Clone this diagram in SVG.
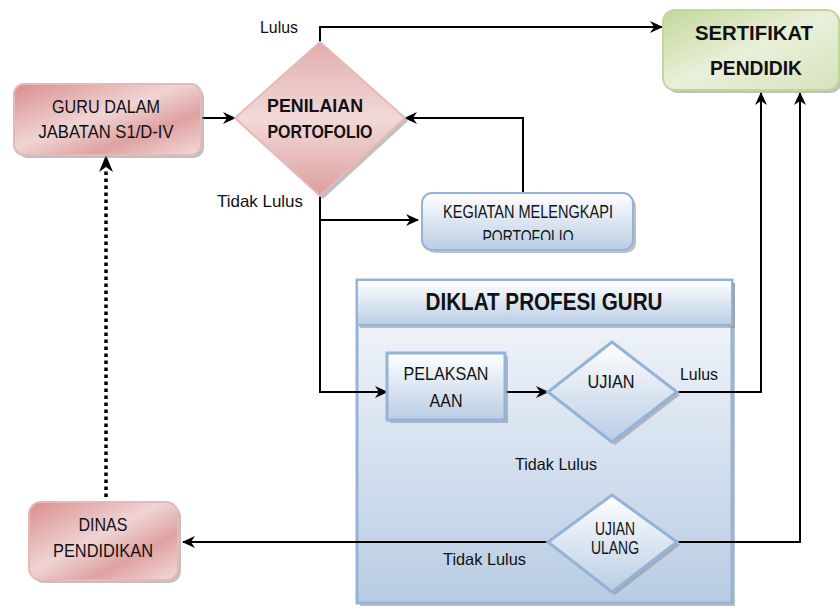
<svg xmlns="http://www.w3.org/2000/svg" width="840" height="611" viewBox="0 0 840 611">
<style>
text{font-family:"Liberation Sans",Arial,sans-serif;fill:#111;}
.n{font-size:18px;text-anchor:middle;}
.b{font-weight:bold;text-anchor:middle;}
.l{font-size:16.5px;}
.c{fill:none;stroke:#000;stroke-width:2;}
.sh{fill:#8c8c8c;opacity:0.55;}
</style>
<defs>
<linearGradient id="pink" x1="0" y1="0" x2="1" y2="1">
<stop offset="0" stop-color="#d98e8d"/><stop offset="0.45" stop-color="#f0d4d4"/><stop offset="0.7" stop-color="#dea2a1"/><stop offset="1" stop-color="#f3dada"/>
</linearGradient>
<linearGradient id="pinkd" x1="0" y1="0" x2="0" y2="1">
<stop offset="0" stop-color="#e3adac"/><stop offset="0.5" stop-color="#f2d9d9"/><stop offset="1" stop-color="#dc9e9d"/>
</linearGradient>
<linearGradient id="green" x1="0" y1="0" x2="1" y2="1">
<stop offset="0" stop-color="#c4d79b"/><stop offset="0.5" stop-color="#e9f0da"/><stop offset="1" stop-color="#d5e3bb"/>
</linearGradient>
<linearGradient id="blue" x1="0" y1="0" x2="0" y2="1">
<stop offset="0" stop-color="#ffffff"/><stop offset="1" stop-color="#b9cde5"/>
</linearGradient>
<linearGradient id="box" x1="0" y1="0" x2="0" y2="1">
<stop offset="0" stop-color="#f7f9fc"/><stop offset="1" stop-color="#b8cce4"/>
</linearGradient>
<marker id="ah" markerWidth="14" markerHeight="12" refX="12" refY="6" orient="auto" markerUnits="userSpaceOnUse">
<path d="M0,0 L13,6 L0,12 L4,6 Z" fill="#000"/>
</marker>
<clipPath id="kclip"><rect x="422" y="193" width="211" height="47"/></clipPath>
</defs>

<g id="diklat">
<rect class="sh" x="360" y="283" width="375" height="323"/>
<rect x="357" y="280" width="375" height="323" fill="url(#box)" stroke="#95b3d7" stroke-width="3"/>
<rect class="sh" x="360" y="283" width="375" height="45"/>
<rect x="357" y="280" width="375" height="45" fill="url(#blue)" stroke="#95b3d7" stroke-width="2"/>
<text class="b" x="544" y="310" font-size="24" textLength="237" lengthAdjust="spacingAndGlyphs">DIKLAT PROFESI GURU</text>
</g>

<g id="connectors">
<path class="c" d="M201,118 H235" marker-end="url(#ah)"/>
<path class="c" d="M320,42 V27 H662" marker-end="url(#ah)"/>
<path class="c" d="M523,192 V118 H405" marker-end="url(#ah)"/>
<path class="c" d="M320,196 V392 H387" marker-end="url(#ah)"/>
<path class="c" d="M320,220 H418" marker-end="url(#ah)"/>
<path class="c" d="M505,392 H548" marker-end="url(#ah)"/>
<path class="c" d="M677,392 H761 V93" marker-end="url(#ah)"/>
<path class="c" d="M677,542 H800 V93" marker-end="url(#ah)"/>
<path class="c" d="M548,542 H183" marker-end="url(#ah)"/>
<path d="M106,497 V168" fill="none" stroke="#000" stroke-width="3.5" stroke-dasharray="3.5 3.5"/>
<path d="M106,155 L113,172 L106,167 L99,172 Z" fill="#000"/>
</g>

<g id="guru">
<rect class="sh" x="17" y="87" width="187" height="71" rx="10"/>
<rect x="14" y="84" width="187" height="71" rx="10" fill="url(#pink)" stroke="#e6b9b8" stroke-width="2"/>
<text class="n" x="106" y="113" textLength="108" lengthAdjust="spacingAndGlyphs">GURU DALAM</text>
<text class="n" x="106" y="138" textLength="135" lengthAdjust="spacingAndGlyphs">JABATAN S1/D-IV</text>
</g>

<g id="penilaian">
<path class="sh" d="M323,45 L408,121 L323,199 L238,121 Z"/>
<path d="M320,42 L405,118 L320,196 L235,118 Z" fill="url(#pinkd)" stroke="#e6b9b8" stroke-width="2"/>
<text class="b" x="315" y="112" font-size="18.5" textLength="96" lengthAdjust="spacingAndGlyphs">PENILAIAN</text>
<text class="b" x="320" y="138" font-size="18.5" textLength="105" lengthAdjust="spacingAndGlyphs">PORTOFOLIO</text>
</g>

<g id="sertifikat">
<rect class="sh" x="666" y="13" width="176" height="80" rx="12"/>
<rect x="663" y="10" width="176" height="80" rx="12" fill="url(#green)" stroke="#c4d79b" stroke-width="2"/>
<text class="b" x="754" y="40" font-size="20" textLength="118" lengthAdjust="spacingAndGlyphs">SERTIFIKAT</text>
<text class="b" x="756" y="75" font-size="20" textLength="92" lengthAdjust="spacingAndGlyphs">PENDIDIK</text>
</g>

<g id="kegiatan">
<rect class="sh" x="425" y="196" width="211" height="57" rx="10"/>
<rect x="422" y="193" width="211" height="57" rx="10" fill="url(#blue)" stroke="#95b3d7" stroke-width="2"/>
<g clip-path="url(#kclip)">
<text class="n" x="528" y="218" font-size="16.5" textLength="170" lengthAdjust="spacingAndGlyphs">KEGIATAN MELENGKAPI</text>
<text class="n" x="528" y="243" font-size="16.5" textLength="91" lengthAdjust="spacingAndGlyphs">PORTOFOLIO</text>
</g>
</g>

<g id="pelaksanaan">
<rect class="sh" x="390" y="356" width="118" height="67"/>
<rect x="387" y="353" width="118" height="67" fill="url(#blue)" stroke="#95b3d7" stroke-width="3"/>
<text class="n" x="446" y="380" textLength="85" lengthAdjust="spacingAndGlyphs">PELAKSAN</text>
<text class="n" x="446" y="407" textLength="33" lengthAdjust="spacingAndGlyphs">AAN</text>
</g>

<g id="ujian">
<path class="sh" d="M615,345 L680,395 L615,445 L551,395 Z"/>
<path d="M612,342 L677,392 L612,442 L548,392 Z" fill="url(#blue)" stroke="#95b3d7" stroke-width="3"/>
<text class="n" x="611" y="388" textLength="47" lengthAdjust="spacingAndGlyphs">UJIAN</text>
</g>

<g id="ujian-ulang">
<path class="sh" d="M615,498 L680,545 L615,595 L551,545 Z"/>
<path d="M612,495 L677,542 L612,592 L548,542 Z" fill="url(#blue)" stroke="#95b3d7" stroke-width="3"/>
<text class="n" x="615" y="535" font-size="16.5" textLength="40" lengthAdjust="spacingAndGlyphs">UJIAN</text>
<text class="n" x="615" y="554" font-size="16.5" textLength="48" lengthAdjust="spacingAndGlyphs">ULANG</text>
</g>

<g id="dinas">
<rect class="sh" x="32" y="505" width="149" height="78" rx="12"/>
<rect x="29" y="502" width="149" height="78" rx="12" fill="url(#pink)" stroke="#e6b9b8" stroke-width="2"/>
<text class="n" x="103" y="531" textLength="49" lengthAdjust="spacingAndGlyphs">DINAS</text>
<text class="n" x="103" y="557" textLength="100" lengthAdjust="spacingAndGlyphs">PENDIDIKAN</text>
</g>

<g id="labels">
<text class="l" x="260" y="33" textLength="38" lengthAdjust="spacingAndGlyphs">Lulus</text>
<text class="l" x="217" y="207" textLength="86" lengthAdjust="spacingAndGlyphs">Tidak Lulus</text>
<text class="l" x="680" y="380" textLength="38" lengthAdjust="spacingAndGlyphs">Lulus</text>
<text class="l" x="515" y="470" textLength="82" lengthAdjust="spacingAndGlyphs">Tidak Lulus</text>
<text class="l" x="443" y="565" textLength="83" lengthAdjust="spacingAndGlyphs">Tidak Lulus</text>
</g>
</svg>
